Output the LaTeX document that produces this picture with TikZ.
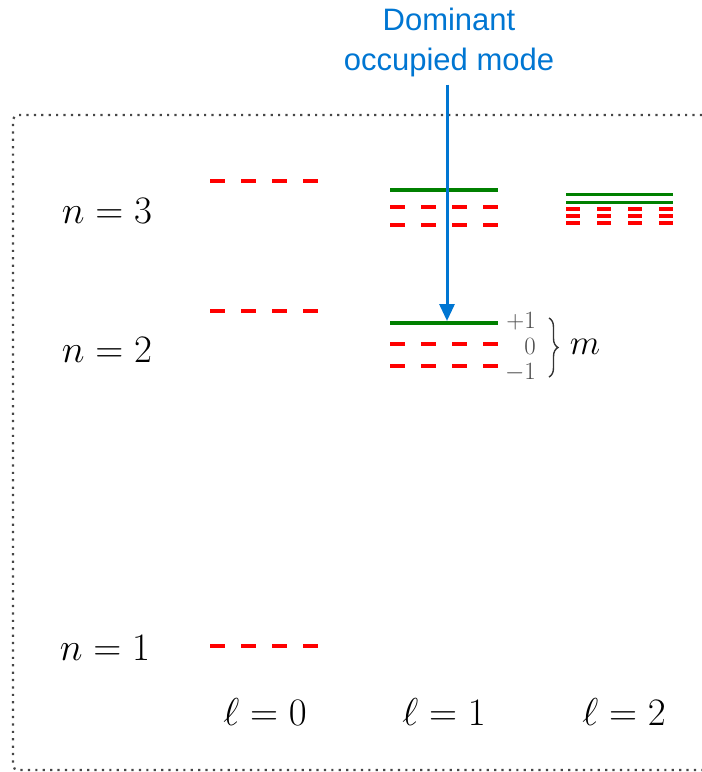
\documentclass[tikz,border=0pt]{standalone}
\usepackage{graphicx}
\usepackage{fontspec}
\newfontfamily\labelsans{Liberation Sans}
\usetikzlibrary{arrows.meta,decorations.pathreplacing}
\definecolor{lvred}{RGB}{255,0,0}
\definecolor{lvgreen}{RGB}{0,128,0}
\definecolor{annblue}{RGB}{0,118,210}
\definecolor{framegray}{RGB}{70,70,70}
\newcommand{\qmath}[2]{\scalebox{#1}{\fontsize{17.28}{20}\selectfont$#2$}}
\begin{document}
\begin{tikzpicture}[x=1pt,y=-1pt,
  emptylvl/.style={draw=lvred, line width=4.5pt, dash pattern=on 15pt off 16pt},
  fulllvl/.style={draw=lvgreen, line width=3.5pt},
  qnum/.style={inner sep=0pt},
  mlab/.style={text=black!70, inner sep=0pt, anchor=east},
  ann/.style={font=\labelsans\fontsize{31}{40}\selectfont, text=annblue, align=center, inner sep=0pt},
  annarrow/.style={draw=annblue, line width=3pt, -{Triangle[width=15pt,length=17pt]}},
  framebox/.style={draw=framegray, line width=2.2pt, dash pattern=on 2.2pt off 5.2pt, rounded corners=5pt}
  ]
\useasboundingbox (0,0) rectangle (702,772);

% frame
\draw[framebox] (702,115) -- (13,115) -- (13,770) -- (702,770);

% quantum number labels
\node[qnum] (n3) at (107,211) {\qmath{2.25}{n=3}};
\node[qnum] (n2) at (107,350) {\qmath{2.25}{n=2}};
\node[qnum] (n1) at (105,648) {\qmath{2.25}{n=1}};
\node[qnum] (l0) at (265,712) {\qmath{2.25}{\ell=0}};
\node[qnum] (l1) at (444,712) {\qmath{2.25}{\ell=1}};
\node[qnum] (l2) at (624,712) {\qmath{2.25}{\ell=2}};

% l = 0
\coordinate (a0n3) at (210,181);
\coordinate (a0n2) at (210,311);
\coordinate (a0n1) at (210,646);
\draw[emptylvl] (a0n3) -- ++(108,0);
\draw[emptylvl] (a0n2) -- ++(108,0);
\draw[emptylvl] (a0n1) -- ++(108,0);

% l = 1, n = 3
\coordinate (a1n3p) at (390,190);
\coordinate (a1n3z) at (390,207);
\coordinate (a1n3m) at (390,225);
\draw[fulllvl] (a1n3p) -- ++(108,0);
\draw[emptylvl] (a1n3z) -- ++(108,0);
\draw[emptylvl] (a1n3m) -- ++(108,0);

% l = 1, n = 2
\coordinate (a1n2p) at (390,323);
\coordinate (a1n2z) at (390,344);
\coordinate (a1n2m) at (390,366);
\draw[emptylvl] (a1n2z) -- ++(108,0);
\draw[emptylvl] (a1n2m) -- ++(108,0);

% l = 2, n = 3
\coordinate (a2a) at (566,194);
\coordinate (a2b) at (566,202);
\coordinate (a2c) at (566,209);
\coordinate (a2d) at (566,216);
\coordinate (a2e) at (566,223);
\draw[fulllvl, line width=3pt] (a2a) -- ++(107,0);
\draw[fulllvl, line width=3pt] (a2b) -- ++(107,0);
\draw[emptylvl, line width=4pt, dash pattern=on 14pt off 17pt] (a2c) -- ++(107,0);
\draw[emptylvl, line width=4pt, dash pattern=on 14pt off 17pt] (a2d) -- ++(107,0);
\draw[emptylvl, line width=4pt, dash pattern=on 14pt off 17pt] (a2e) -- ++(107,0);

% m labels and brace
\node[mlab] (mp) at (536,321) {\qmath{1.44}{+1}};
\node[mlab] (mz) at (536,346) {\qmath{1.44}{0}};
\node[mlab] (mm) at (536,373) {\qmath{1.44}{-1}};
\draw[black!80, line width=1.4pt, decorate, decoration={brace, amplitude=9pt}] (549,318) -- (549,377);
\node[qnum] (mname) at (585,347) {\qmath{2.05}{m}};

% annotation
\node[ann] (title) at (449,42) {Dominant\\occupied mode};
\coordinate (tip) at (447,321);
\draw[annarrow, shorten <=8pt] (title.south -| tip) -- (tip);
\draw[fulllvl] (a1n2p) -- ++(108,0);
\end{tikzpicture}
\end{document}
